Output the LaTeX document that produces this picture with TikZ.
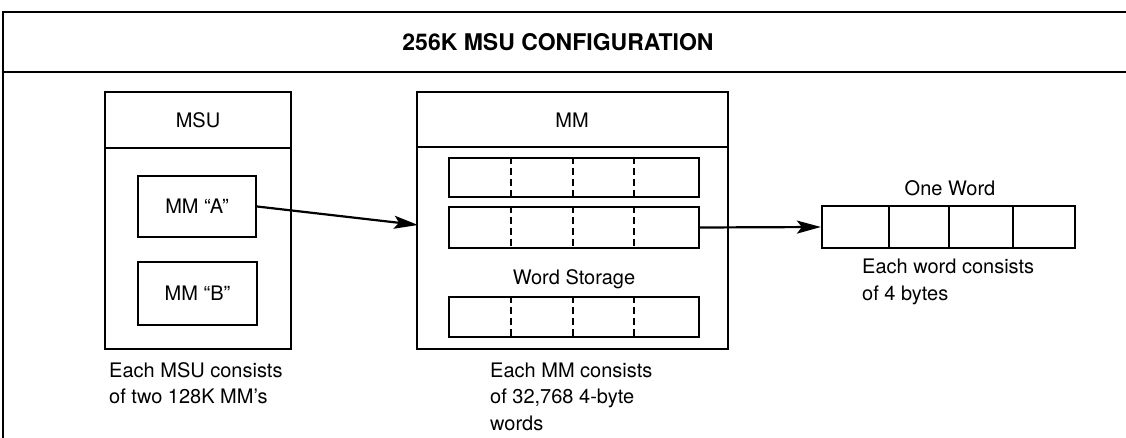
\documentclass[tikz,border=0pt]{standalone}
\usepackage{fontspec}
\setmainfont{TeX Gyre Heros}
\usetikzlibrary{arrows.meta}
\begin{document}
\begin{tikzpicture}[x=1pt,y=-1pt,
  frameline/.style={line width=2.8pt},
  box/.style={draw, line width=2.2pt, inner sep=0pt, rectangle},
  sepline/.style={line width=2pt},
  byteline/.style={line width=1.3pt, dash pattern=on 7pt off 4pt},
  solidbyte/.style={line width=1.6pt},
  lbl/.style={font=\fontsize{20}{24}\selectfont, inner sep=0pt},
  captxt/.style={font=\fontsize{20}{24}\selectfont, inner sep=0pt, anchor=base west},
  ttl/.style={font=\fontsize{23}{27}\selectfont\bfseries, inner sep=0pt},
  arr/.style={line width=2.2pt, -{Stealth[length=24pt,width=13pt,inset=5pt]}}
]
\useasboundingbox (0,0) rectangle (1126,438);
% outer frame
\coordinate (fbl) at (3,440);
\coordinate (ftl) at (3,12);
\coordinate (ftr) at (1128,12);
\coordinate (fsl) at (3,72);
\coordinate (fsr) at (1128,72);
\draw[frameline] (fbl) -- (ftl) -- (ftr);
\draw[frameline] (fsl) -- (fsr);
\node[ttl] (title) at (558,42) {256K MSU CONFIGURATION};

% MSU box
\node[box, minimum width=186pt, minimum height=257pt] (msu) at (198,220.5) {};
\coordinate (msusl) at (105,148);
\coordinate (msusr) at (291,148);
\draw[sepline] (msusl) -- (msusr);
\node[lbl] (msulbl) at (198,120) {MSU};
\node[box, minimum width=118pt, minimum height=61pt, lbl] (mmA) at (197,206.5) {MM “A”};
\node[box, minimum width=119pt, minimum height=63pt, lbl] (mmB) at (197.5,293.5) {MM “B”};

% MM box
\node[box, minimum width=311pt, minimum height=257pt] (mm) at (572.5,220.5) {};
\coordinate (mmsl) at (417,147);
\coordinate (mmsr) at (728,147);
\draw[sepline] (mmsl) -- (mmsr);
\node[lbl] (mmlbl) at (572,120) {MM};

\node[box, minimum width=250pt, minimum height=39pt] (row1) at (574,177.5) {};
\node[box, minimum width=250pt, minimum height=41pt] (row2) at (574,227.5) {};
\node[box, minimum width=250pt, minimum height=40pt] (row3) at (574,317) {};
\foreach \r in {row1,row2,row3}{
  \foreach \xx in {511,573,634}{
    \draw[byteline] (\r.north west -| \xx,0) -- (\r.south west -| \xx,0);
  }
}
\node[lbl] (ws) at (574,279) {Word Storage};

% One word
\node[box, minimum width=253pt, minimum height=42pt] (word) at (948.5,227) {};
\foreach \xx in {889,949,1013}{
  \draw[solidbyte] (word.north west -| \xx,0) -- (word.south west -| \xx,0);
}
\node[lbl] (ow) at (950,188) {One Word};

% arrows
\coordinate (mmin) at (418,225);
\draw[arr] (mmA.east) -- (mmin);
\draw[arr] (row2.east) -- (word.west);

% captions
\node[captxt] (c1a) at (109,377) {Each MSU consists};
\node[captxt] (c1b) at (109,403) {of two 128K MM’s};
\node[captxt] (c2a) at (490,377) {Each MM consists};
\node[captxt] (c2b) at (490,403) {of 32,768 4-byte};
\node[captxt] (c2c) at (490,430) {words};
\node[captxt] (c3a) at (862,273) {Each word consists};
\node[captxt] (c3b) at (862,300) {of 4 bytes};
\end{tikzpicture}
\end{document}
